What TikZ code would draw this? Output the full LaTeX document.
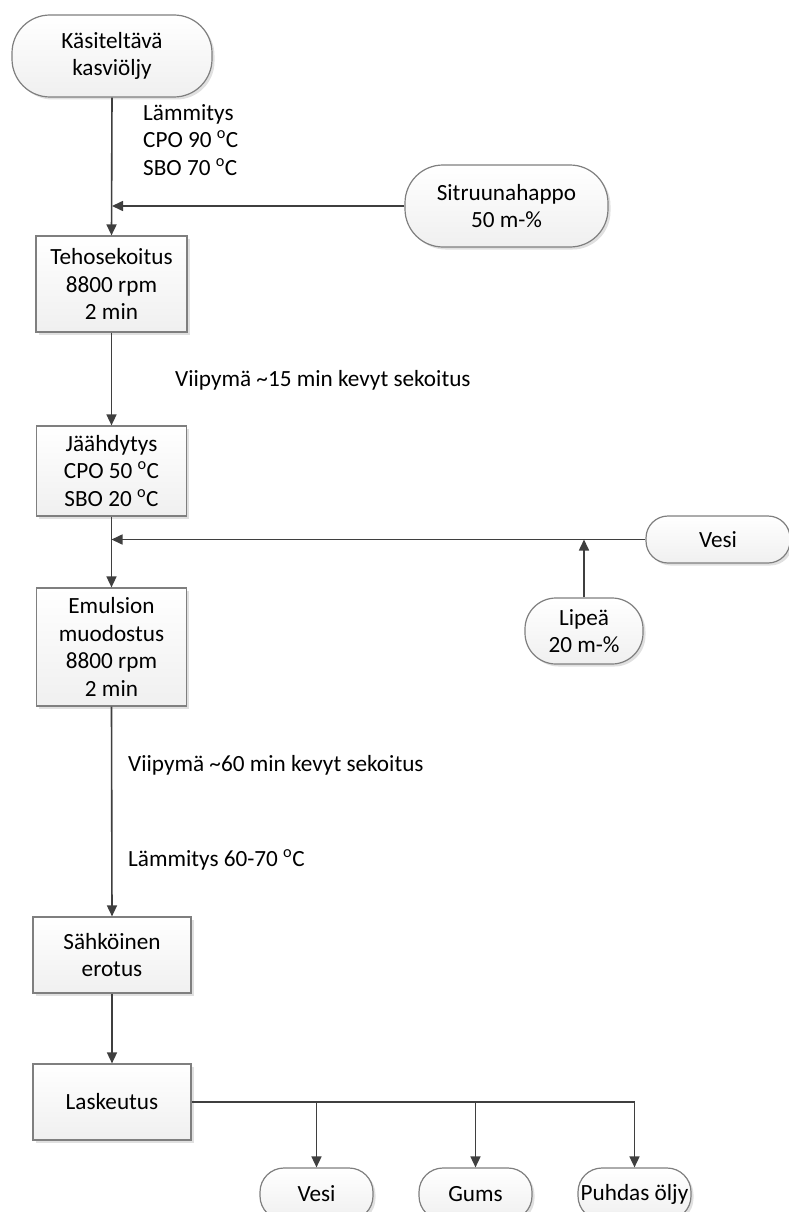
\documentclass[tikz,border=0pt]{standalone}
\usepackage{fontspec}
\setmainfont{Carlito}
\usetikzlibrary{arrows.meta,shadows}
\definecolor{linec}{HTML}{3F3F3F}
\definecolor{borderc}{HTML}{7F7F7F}
\newcommand{\dg}{\textsuperscript{o}C}
\begin{document}
\begin{tikzpicture}[x=1pt,y=-1pt,
  font=\fontsize{23.2}{27.5}\selectfont,
  procbox/.style={draw=borderc, line width=1.2pt, top color=white, bottom color=black!6,
    drop shadow={shadow xshift=2.5pt, shadow yshift=-2.5pt, fill=black!12, opacity=1},
    align=center, inner sep=0pt},
  termbox/.style={procbox},
  arr/.style={draw=linec, line width=1.6pt, -{Triangle[length=11pt,width=10pt]}},
  ln/.style={draw=linec, line width=1.6pt},
  lbl/.style={align=left, inner sep=0pt, text=black}
]
\clip (0,0) rectangle (789,1212);
\useasboundingbox (0,0) rectangle (789,1212);

% terminals
\node[termbox, minimum width=200pt, minimum height=82pt, rounded corners=38pt] (start) at (112,56) {Käsiteltävä\\kasviöljy};
\node[termbox, minimum width=203pt, minimum height=82pt, rounded corners=38pt] (sitr) at (506.5,206) {Sitruunahappo\\50 m-\%};
\node[termbox, minimum width=144pt, minimum height=47pt, rounded corners=22pt] (vesia) at (718,539.5) {Vesi};
\node[termbox, minimum width=118pt, minimum height=66pt, rounded corners=31pt] (lipea) at (584,631) {Lipeä\\20 m-\%};
\node[termbox, minimum width=113pt, minimum height=52pt, rounded corners=24pt] (vesib) at (316.5,1194) {Vesi};
\node[termbox, minimum width=113pt, minimum height=52pt, rounded corners=24pt] (gums) at (475.5,1194) {Gums};
\node[termbox, minimum width=113pt, minimum height=52pt, rounded corners=24pt] (puhdas) at (634.5,1194) {Puhdas öljy};

% process boxes
\node[procbox, minimum width=151pt, minimum height=96pt] (teho) at (111.5,284) {Tehosekoitus\\8800 rpm\\2 min};
\node[procbox, minimum width=150pt, minimum height=90pt] (jaa) at (111.5,471) {Jäähdytys\\CPO 50 \dg\\SBO 20 \dg};
\node[procbox, minimum width=150pt, minimum height=118pt] (emul) at (111.5,647) {Emulsion\\muodostus\\8800 rpm\\2 min};
\node[procbox, minimum width=158pt, minimum height=76pt] (sahko) at (112,955) {Sähköinen\\erotus};
\node[procbox, minimum width=158pt, minimum height=76pt] (lask) at (112,1102) {Laskeutus};

% labels
\node[lbl, anchor=north west] (lam1) at (143,104) {Lämmitys\\CPO 90 \dg\\SBO 70 \dg};
\node[lbl, anchor=west] (viip1) at (175,380) {Viipymä \textasciitilde15 min kevyt sekoitus};
\node[lbl, anchor=west] (viip2) at (128,765) {Viipymä \textasciitilde60 min kevyt sekoitus};
\node[lbl, anchor=west] (lam2) at (128,860) {Lämmitys 60-70 \dg};

% connectors
\coordinate (j1) at (start.south |- sitr.west);
\coordinate (j2) at (jaa.south |- vesia.west);
\coordinate (j3) at (lipea.north |- vesia.west);
\draw[arr] (start.south) -- (teho.north);
\draw[arr] (sitr.west) -- (j1);
\draw[arr] (teho.south) -- (jaa.north);
\draw[arr] (jaa.south) -- (emul.north);
\draw[arr] (vesia.west) -- (j2);
\draw[arr] (lipea.north) -- (j3);
\draw[arr] (emul.south) -- (sahko.north);
\draw[arr] (sahko.south) -- (lask.north);
\coordinate (b1) at (vesib.north |- lask.east);
\coordinate (b2) at (gums.north |- lask.east);
\coordinate (b3) at (puhdas.north |- lask.east);
\draw[ln] (lask.east) -- (b3);
\draw[arr] (b1) -- (vesib.north);
\draw[arr] (b2) -- (gums.north);
\draw[arr] (b3) -- (puhdas.north);
\end{tikzpicture}
\end{document}
